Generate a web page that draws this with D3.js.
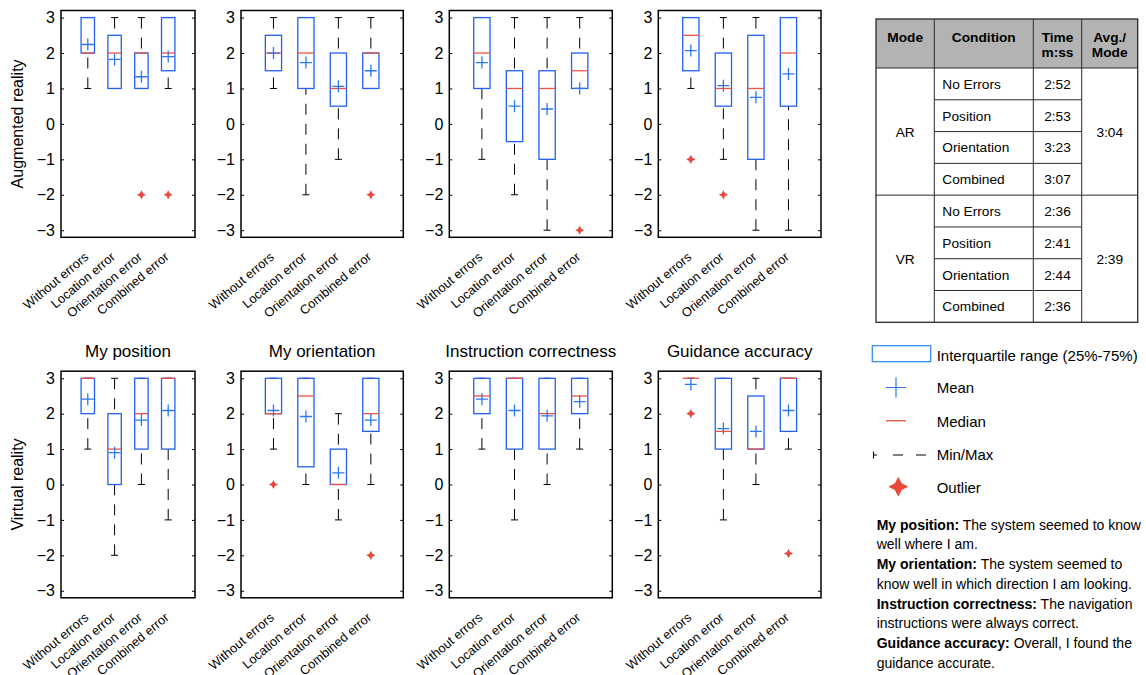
<!DOCTYPE html>
<html>
<head>
<meta charset="utf-8">
<script src="https://cdn.jsdelivr.net/npm/d3@7"></script>
<style>
  html, body { margin: 0; padding: 0; background: #fff; }
  svg { display: block; font-family: "Liberation Sans", Arial, Helvetica, sans-serif; }
</style>
</head>
<body>
<svg id="chart" width="1146" height="675"></svg>
<script>
// ---------------- DATA ----------------
const conditions = ["Without errors", "Location error", "Orientation error", "Combined error"];
const questions = ["My position", "My orientation", "Instruction correctness", "Guidance accuracy"];
const modes = ["Augmented reality", "Virtual reality"];
const yTicks = [-3, -2, -1, 0, 1, 2, 3];

// stats per condition: [min, q1, median, q3, max]
const arPositionStats    = [[1, 2, 2, 3, 3], [1, 1, 2, 2.5, 3], [1, 1, 2, 2, 3], [1, 1.5, 2, 3, 3]];
const arPositionMeans    = [2.24, 1.82, 1.33, 1.9];
const arPositionOutliers = [[], [], [-2], [-2]];

const arOrientationStats    = [[1, 1.5, 2, 2.5, 3], [-2, 1, 2, 3, 3], [-1, 0.5, 1, 2, 3], [1, 1, 2, 2, 3]];
const arOrientationMeans    = [2.0, 1.73, 1.06, 1.5];
const arOrientationOutliers = [[], [], [], [-2]];

const arInstructionStats    = [[-1, 1, 2, 3, 3], [-2, -0.5, 1, 1.5, 3], [-3, -1, 1, 1.5, 3], [1, 1, 1.5, 2, 3]];
const arInstructionMeans    = [1.73, 0.5, 0.42, 1.0];
const arInstructionOutliers = [[], [], [], [-3]];

const arGuidanceStats    = [[1, 1.5, 2.5, 3, 3], [-1, 0.5, 1, 2, 3], [-3, -1, 1, 2.5, 3], [-3, 0.5, 2, 3, 3]];
const arGuidanceMeans    = [2.07, 1.08, 0.75, 1.41];
const arGuidanceOutliers = [[-1], [-2], [], []];

const vrPositionStats    = [[1, 2, 3, 3, 3], [-2, 0, 1, 2, 3], [0, 1, 2, 3, 3], [-1, 1, 3, 3, 3]];
const vrPositionMeans    = [2.41, 0.9, 1.82, 2.09];
const vrPositionOutliers = [[], [], [], []];

const vrOrientationStats    = [[1, 2, 2, 3, 3], [0, 0.5, 2.5, 3, 3], [-1, 0, 0, 1, 2], [0, 1.5, 2, 3, 3]];
const vrOrientationMeans    = [2.09, 1.92, 0.33, 1.82];
const vrOrientationOutliers = [[0], [], [], [-2]];

const vrInstructionStats    = [[1, 2, 2.5, 3, 3], [-1, 1, 3, 3, 3], [0, 1, 2, 3, 3], [1, 2, 2.5, 3, 3]];
const vrInstructionMeans    = [2.41, 2.09, 1.94, 2.34];
const vrInstructionOutliers = [[], [], [], []];

const vrGuidanceStats    = [[3, 3, 3, 3, 3], [-1, 1, 1.5, 3, 3], [0, 1, 1, 2.5, 3], [1, 1.5, 3, 3, 3]];
const vrGuidanceMeans    = [2.83, 1.58, 1.5, 2.09];
const vrGuidanceOutliers = [[2], [], [], [-1.95]];

// table
const tableHeaders = [["Mode"], ["Condition"], ["Time", "m:ss"], ["Avg./", "Mode"]];
const tableModes = ["AR", "VR"];
const tableConditions = ["No Errors", "Position", "Orientation", "Combined"];
const arTimes = ["2:52", "2:53", "3:23", "3:07"];
const vrTimes = ["2:36", "2:41", "2:44", "2:36"];
const modeAverages = ["3:04", "2:39"];

// legend + notes
const legendLabels = ["Interquartile range (25%-75%)", "Mean", "Median", "Min/Max", "Outlier"];
const noteTerms = ["My position:", "My orientation:", "Instruction correctness:", "Guidance accuracy:"];
const noteFirstLines = [" The system seemed to know", " The system seemed to", " The navigation", " Overall, I found the"];
const noteSecondLines = ["well where I am.", "know well in which direction I am looking.", "instructions were always correct.", "guidance accurate."];

// ---------------- ASSEMBLY ----------------
const panels = [
  [
    { stats: arPositionStats, means: arPositionMeans, outliers: arPositionOutliers },
    { stats: arOrientationStats, means: arOrientationMeans, outliers: arOrientationOutliers },
    { stats: arInstructionStats, means: arInstructionMeans, outliers: arInstructionOutliers },
    { stats: arGuidanceStats, means: arGuidanceMeans, outliers: arGuidanceOutliers }
  ],
  [
    { stats: vrPositionStats, means: vrPositionMeans, outliers: vrPositionOutliers },
    { stats: vrOrientationStats, means: vrOrientationMeans, outliers: vrOrientationOutliers },
    { stats: vrInstructionStats, means: vrInstructionMeans, outliers: vrInstructionOutliers },
    { stats: vrGuidanceStats, means: vrGuidanceMeans, outliers: vrGuidanceOutliers }
  ]
];

// ---------------- LAYOUT / STYLE ----------------
const panelLefts = [61, 241, 449.3, 658.3];
const panelRights = [195, 403.3, 612.3, 821];
const rowTops = [10.5, 371.2];
const rowBottoms = [237.3, 597.8];

const BOX_BLUE = "#2260f5";
const MEAN_BLUE = "#2a78f2";
const MEDIAN_RED = "#ef5145";
const OUTLIER_RED = "#e8473a";
const capHalf = 3.5;
const meanHalf = 6;

const svg = d3.select("#chart");
svg.append("rect").attr("width", 1146).attr("height", 675).attr("fill", "#fff");

function starPath(r) {
  const a = r * 0.34;
  return `M0,${-r}L${a},${-a}L${r},0L${a},${a}L0,${r}L${-a},${a}L${-r},0L${-a},${-a}Z`;
}

panels.forEach((row, ri) => {
  row.forEach((panel, pi) => {
    const left = panelLefts[pi], right = panelRights[pi];
    const top = rowTops[ri], bottom = rowBottoms[ri];
    const x = d3.scaleLinear().domain([0, conditions.length + 1]).range([left, right]);
    const y = d3.scaleLinear().domain([-3.2, 3.2]).range([bottom, top]);
    const bw = (x(1) - x(0)) * 0.5;
    const g = svg.append("g");

    // axes
    const yAxis = d3.axisLeft(y).tickValues(yTicks).tickSizeInner(-3).tickSizeOuter(0).tickPadding(6)
      .tickFormat(d => d < 0 ? "\u2212" + Math.abs(d) : String(d));
    const ga = g.append("g").attr("transform", `translate(${left},0)`).call(yAxis);
    ga.select(".domain").remove();
    ga.selectAll("line").attr("stroke", "#000").attr("stroke-width", 1);
    ga.selectAll("text").attr("font-size", 16).attr("fill", "#000")
      .attr("font-family", "Liberation Sans, Arial, sans-serif");
    const yAxisR = d3.axisRight(y).tickValues(yTicks).tickSizeInner(-3).tickSizeOuter(0).tickFormat("");
    const gr = g.append("g").attr("transform", `translate(${right},0)`).call(yAxisR);
    gr.select(".domain").remove();
    gr.selectAll("line").attr("stroke", "#000").attr("stroke-width", 1);

    // boxes
    panel.stats.forEach((s, ci) => {
      const cx = x(ci + 1);
      const [mn, q1, md, q3, mx] = s;
      if (mx > q3) {
        g.append("line").attr("x1", cx).attr("x2", cx).attr("y1", y(mx)).attr("y2", y(q3))
          .attr("stroke", "#000").attr("stroke-width", 1).attr("stroke-dasharray", "11,9");
      }
      if (mn < q1) {
        g.append("line").attr("x1", cx).attr("x2", cx).attr("y1", y(mn)).attr("y2", y(q1))
          .attr("stroke", "#000").attr("stroke-width", 1).attr("stroke-dasharray", "11,9");
      }
      [mn, mx].forEach(v => {
        g.append("line").attr("x1", cx - capHalf).attr("x2", cx + capHalf).attr("y1", y(v)).attr("y2", y(v))
          .attr("stroke", "#000").attr("stroke-width", 1);
      });
      g.append("rect").attr("x", cx - bw / 2).attr("width", bw)
        .attr("y", y(q3)).attr("height", Math.max(0, y(q1) - y(q3)))
        .attr("fill", "none").attr("stroke", BOX_BLUE).attr("stroke-width", 1.3);
      g.append("line").attr("x1", cx - bw / 2).attr("x2", cx + bw / 2).attr("y1", y(md)).attr("y2", y(md))
        .attr("stroke", MEDIAN_RED).attr("stroke-width", 1.3);
      const my = y(panel.means[ci]);
      g.append("path").attr("d", `M${cx - meanHalf},${my}H${cx + meanHalf}M${cx},${my - meanHalf}V${my + meanHalf}`)
        .attr("stroke", MEAN_BLUE).attr("stroke-width", 1.3).attr("fill", "none");
      panel.outliers[ci].forEach(v => {
        g.append("path").attr("d", starPath(4.6)).attr("transform", `translate(${cx},${y(v)})`)
          .attr("fill", OUTLIER_RED);
      });
      g.append("text").attr("transform", `translate(${cx + 1.5},${bottom + 21}) rotate(-40)`)
        .attr("text-anchor", "end").attr("font-size", 12.8).attr("fill", "#000").text(conditions[ci]);
    });

    g.append("rect").attr("x", left).attr("y", top).attr("width", right - left).attr("height", bottom - top)
      .attr("fill", "none").attr("stroke", "#000").attr("stroke-width", 1.5);

    if (ri === 1) {
      svg.append("text").attr("x", (left + right) / 2).attr("y", 356.5).attr("text-anchor", "middle")
        .attr("font-size", 17).attr("fill", "#000").text(questions[pi]);
    }
  });
  const cy = (rowTops[ri] + rowBottoms[ri]) / 2;
  svg.append("text").attr("transform", `translate(23,${cy}) rotate(-90)`).attr("text-anchor", "middle")
    .attr("font-size", 16).attr("fill", "#000").text(modes[ri]);
});

// ---------------- TABLE ----------------
const colX = [876, 934.3, 1033.3, 1081.7, 1137.7];
const tTop = 19, headBottom = 68, rowH = (322.3 - 68) / 8, tBottom = 322.3;
const tg = svg.append("g").attr("font-size", 13.7).attr("fill", "#000");
tg.append("rect").attr("x", colX[0]).attr("y", tTop).attr("width", colX[4] - colX[0]).attr("height", headBottom - tTop)
  .attr("fill", "#b3b3b3");
const lineC = "#2a2a2a";
tg.append("line").attr("x1", colX[0]).attr("x2", colX[4]).attr("y1", headBottom).attr("y2", headBottom).attr("stroke", lineC);
tg.append("line").attr("x1", colX[0]).attr("x2", colX[4]).attr("y1", headBottom + 4 * rowH).attr("y2", headBottom + 4 * rowH).attr("stroke", lineC);
for (let i = 1; i < 8; i++) {
  if (i === 4) continue;
  const yy = headBottom + i * rowH;
  tg.append("line").attr("x1", colX[1]).attr("x2", colX[3]).attr("y1", yy).attr("y2", yy).attr("stroke", lineC);
}
for (let i = 1; i < 4; i++) {
  tg.append("line").attr("x1", colX[i]).attr("x2", colX[i]).attr("y1", tTop).attr("y2", tBottom).attr("stroke", lineC);
}
tg.append("rect").attr("x", colX[0]).attr("y", tTop).attr("width", colX[4] - colX[0]).attr("height", tBottom - tTop)
  .attr("fill", "none").attr("stroke", lineC).attr("stroke-width", 1.3);
tableHeaders.forEach((lines, i) => {
  const cx = (colX[i] + colX[i + 1]) / 2;
  lines.forEach((t, j) => {
    tg.append("text").attr("x", cx).attr("y", 41.5 + j * 15.8).attr("text-anchor", "middle")
      .attr("font-weight", "bold").text(t);
  });
});
const timesByMode = [arTimes, vrTimes];
tableModes.forEach((m, mi) => {
  const gTop = headBottom + mi * 4 * rowH;
  const gc = gTop + 2 * rowH;
  tg.append("text").attr("x", (colX[0] + colX[1]) / 2).attr("y", gc + 5).attr("text-anchor", "middle").text(m);
  tg.append("text").attr("x", (colX[3] + colX[4]) / 2).attr("y", gc + 5).attr("text-anchor", "middle").text(modeAverages[mi]);
  tableConditions.forEach((c, ci) => {
    const rc = gTop + (ci + 0.5) * rowH;
    tg.append("text").attr("x", colX[1] + 8).attr("y", rc + 5).text(c);
    tg.append("text").attr("x", (colX[2] + colX[3]) / 2).attr("y", rc + 5).attr("text-anchor", "middle").text(timesByMode[mi][ci]);
  });
});

// ---------------- LEGEND ----------------
const lg = svg.append("g");
const legBase = [360.7, 393.3, 426.5, 460, 493.3];
legendLabels.forEach((t, i) => {
  lg.append("text").attr("x", 936.7).attr("y", legBase[i]).attr("font-size", 15).attr("fill", "#000").text(t);
});
lg.append("rect").attr("x", 872.3).attr("y", 345.7).attr("width", 58.4).attr("height", 16)
  .attr("fill", "none").attr("stroke", "#3b8cf5").attr("stroke-width", 1.3);
lg.append("path").attr("d", "M886,387.5H906M896,377.5V397.5").attr("stroke", MEAN_BLUE).attr("stroke-width", 1.2);
lg.append("line").attr("x1", 886).attr("x2", 906).attr("y1", 420.7).attr("y2", 420.7).attr("stroke", MEDIAN_RED).attr("stroke-width", 1.3);
lg.append("path").attr("d", "M873.5,451.5V458.5M873.5,455H877M893,455H903M916,455H926").attr("stroke", "#000").attr("stroke-width", 1.1);
lg.append("path").attr("d", starPath(10)).attr("transform", "translate(898.3,486.7)").attr("fill", OUTLIER_RED);

// ---------------- NOTES ----------------
const ng = svg.append("g").attr("font-size", 14).attr("fill", "#000");
noteTerms.forEach((term, i) => {
  const t1 = ng.append("text").attr("x", 876.7).attr("y", 529.5 + i * 2 * 19.75);
  t1.append("tspan").attr("font-weight", "bold").text(term);
  t1.append("tspan").text(noteFirstLines[i]);
  ng.append("text").attr("x", 876.7).attr("y", 529.5 + (i * 2 + 1) * 19.75).text(noteSecondLines[i]);
});
</script>
</body>
</html>
